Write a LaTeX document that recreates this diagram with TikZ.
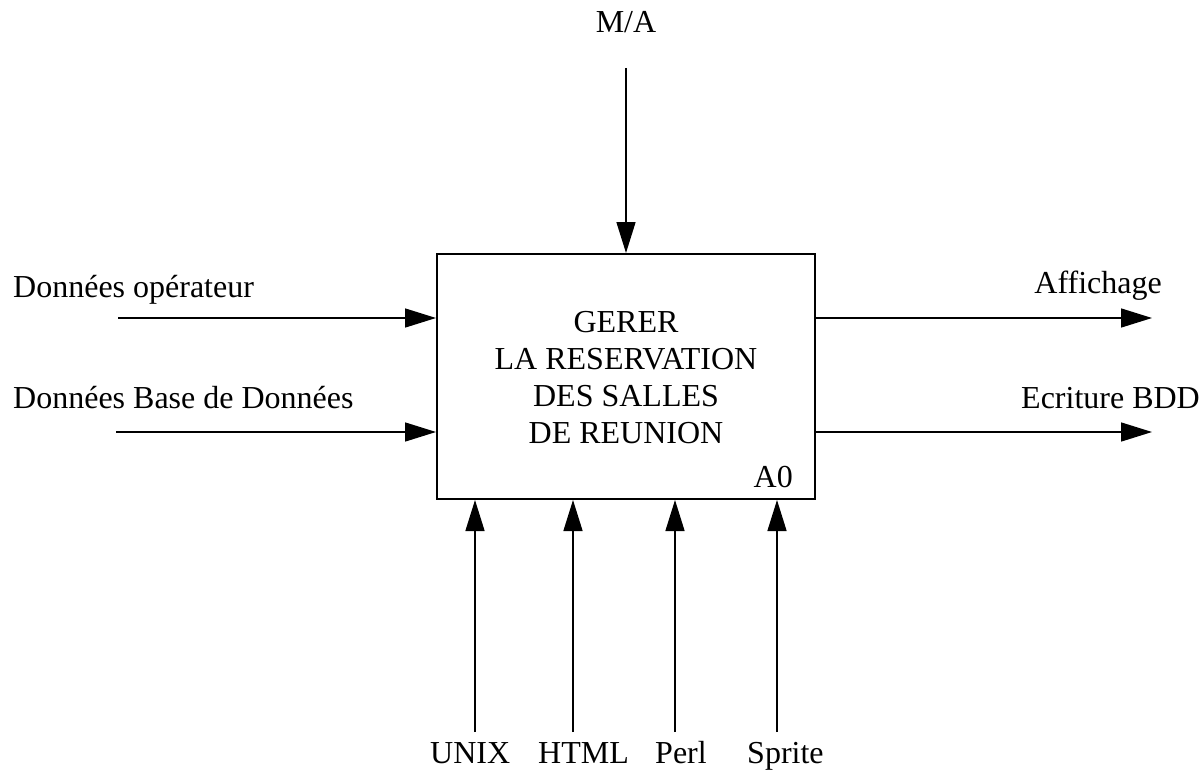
\documentclass[tikz,border=0pt]{standalone}
\usepackage{fontspec}
\setmainfont{Liberation Serif}
\usetikzlibrary{arrows.meta}
\begin{document}
\begin{tikzpicture}[x=1pt,y=-1pt,
  arr/.style={line width=1.5pt,-{Triangle[length=31pt,width=19pt]}},
  lbl/.style={inner sep=0pt,font=\fontsize{32}{37}\selectfont},
  boxst/.style={draw,line width=2pt,minimum width=378pt,minimum height=245pt,inner sep=0pt}]
\useasboundingbox (0,0) rectangle (1204,773);
\fill[white] (0,0) rectangle (1204,773);
% main box
\node[boxst] (box) at (626,376.5) {};
\node[lbl,anchor=base,align=center] (title) at (626,443) {GERER\\LA RESERVATION\\DES SALLES\\DE REUNION};
\node[lbl,anchor=base east] (a0) at (793,487) {A0};
% control
\node[lbl,anchor=base] (ma) at (626,33) {M/A};
\coordinate (ctl) at (626,68);
\draw[arr] (ctl) -- (ctl |- box.north);
% inputs
\node[lbl,anchor=base west] (in1l) at (13,297) {Données opérateur};
\node[lbl,anchor=base west] (in2l) at (13,408) {Données Base de Données};
\coordinate (in1) at (118,318);
\coordinate (in2) at (116,432);
\draw[arr] (in1) -- (in1 -| box.west);
\draw[arr] (in2) -- (in2 -| box.west);
% outputs
\node[lbl,anchor=base east] (out1l) at (1162,293) {Affichage};
\node[lbl,anchor=base east] (out2l) at (1200,408) {Ecriture BDD};
\coordinate (out1) at (1152,318);
\coordinate (out2) at (1152,432);
\draw[arr] (out1 -| box.east) -- (out1);
\draw[arr] (out2 -| box.east) -- (out2);
% mechanisms
\coordinate (m1) at (475,732);
\coordinate (m2) at (573,732);
\coordinate (m3) at (675,732);
\coordinate (m4) at (777,732);
\draw[arr] (m1) -- (m1 |- box.south);
\draw[arr] (m2) -- (m2 |- box.south);
\draw[arr] (m3) -- (m3 |- box.south);
\draw[arr] (m4) -- (m4 |- box.south);
\node[lbl,anchor=base west] (m1l) at (430,763) {UNIX};
\node[lbl,anchor=base west] (m2l) at (538,763) {HTML};
\node[lbl,anchor=base west] (m3l) at (655,763) {Perl};
\node[lbl,anchor=base west] (m4l) at (747,763) {Sprite};
\end{tikzpicture}
\end{document}
